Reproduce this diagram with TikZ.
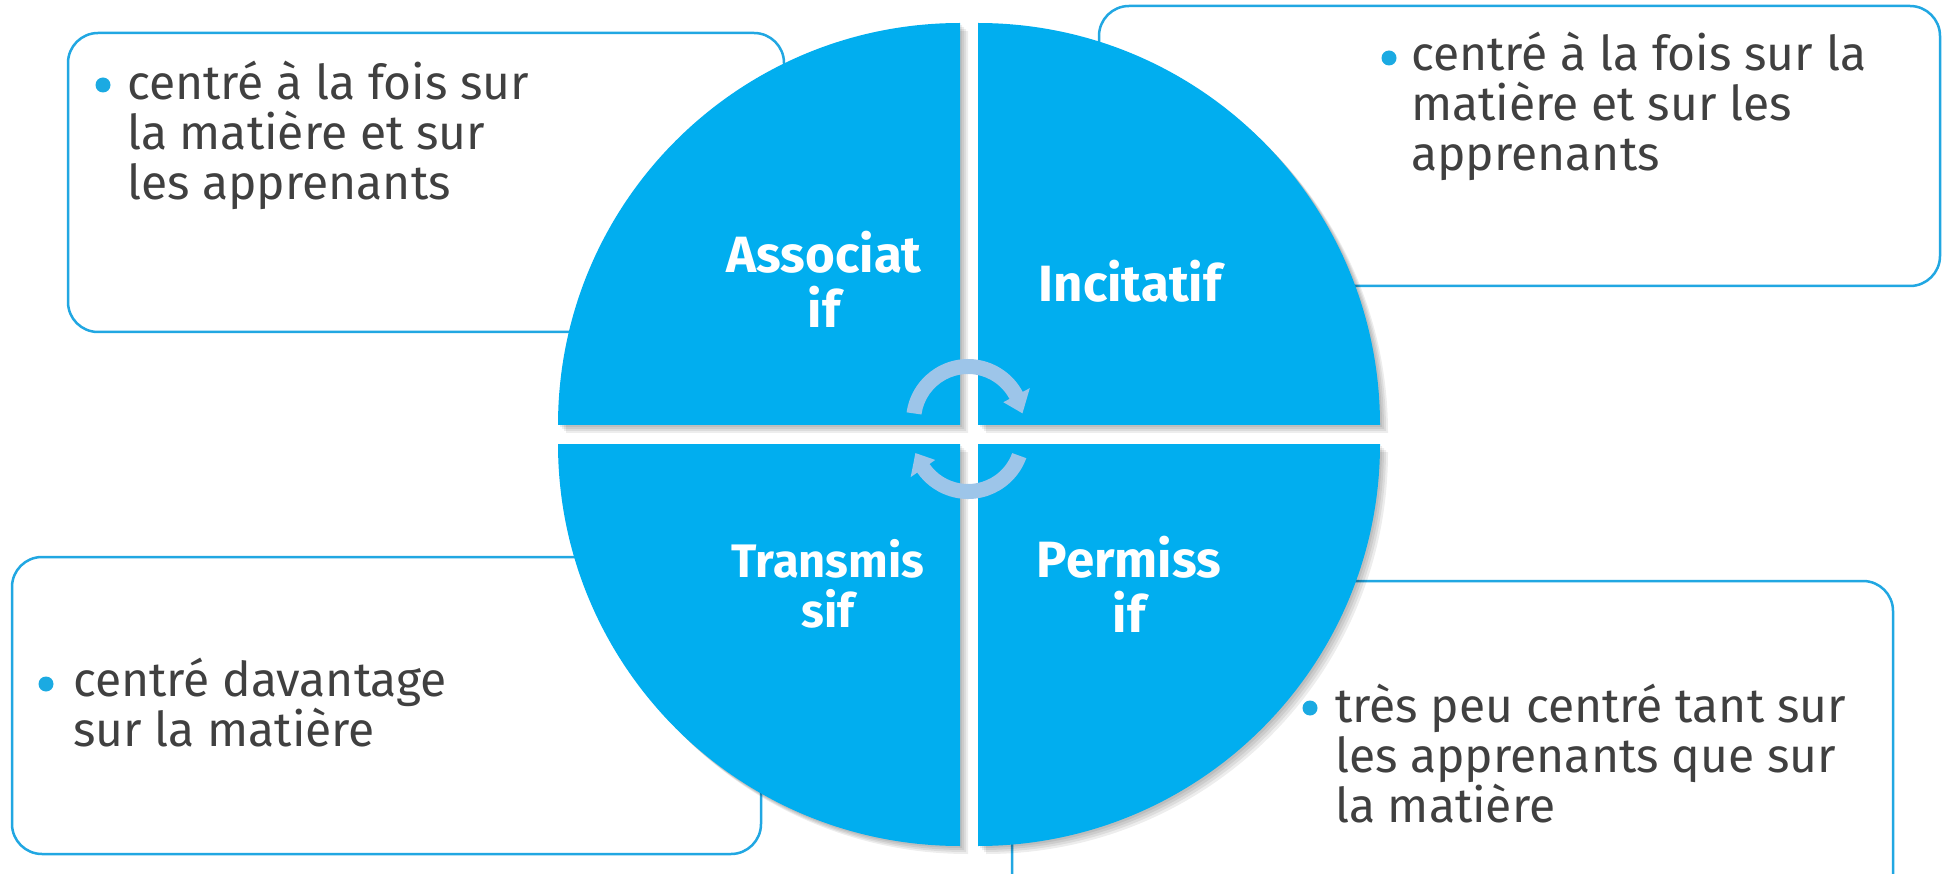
\documentclass[tikz,border=0pt]{standalone}
\usepackage{fontspec}
\setmainfont{Fira Sans}
\definecolor{quadblue}{RGB}{1,174,239}
\definecolor{boxblue}{RGB}{33,167,226}
\definecolor{bulletblue}{RGB}{27,170,226}
\definecolor{textgray}{RGB}{64,64,64}
\definecolor{arrowblue}{RGB}{157,197,233}
\begin{document}
\begin{tikzpicture}[x=1pt,y=-1pt,
  infobox/.style={draw=boxblue, line width=2.5pt, fill=white, rounded corners=30pt},
  quad/.style={fill=quadblue},
  qshadow/.style={fill=black, fill opacity=0.07},
  body/.style={font=\fontsize{48}{50}\selectfont, align=left, inner sep=0pt, text=textgray, anchor=base west},
  label/.style={font=\bfseries\fontsize{51}{55}\selectfont, align=center, inner sep=0pt, text=white, anchor=base},
  bullet/.style={circle, fill=bulletblue, inner sep=0pt, minimum size=15pt},
  cyc/.style={fill=arrowblue}]
\useasboundingbox (0,0) rectangle (1944,874);
\clip (0,0) rectangle (1944,874);
% info boxes
\path[infobox] (68,33) rectangle (784,332);
\path[infobox] (1099,6) rectangle (1940,286);
\path[infobox] (12,557) rectangle (761,854);
\path[infobox] (1012,581) rectangle (1893,910);
% quadrant shadows
\foreach \d in {2,4,6,8}{
  \path[qshadow] (960+\d,425+\d) -- (558+\d,425+\d) arc[start angle=-180,end angle=-90,radius=402] -- cycle;
  \path[qshadow] (978+\d,425+\d) -- (978+\d,23+\d) arc[start angle=-90,end angle=0,radius=402] -- cycle;
  \path[qshadow] (960+\d,444+\d) -- (558+\d,444+\d) arc[start angle=180,end angle=90,radius=402] -- cycle;
  \path[qshadow] (978+\d,444+\d) -- (1380+\d,444+\d) arc[start angle=0,end angle=90,radius=402] -- cycle;
}
% quadrants
\path[quad] (960,425) -- (558,425) arc[start angle=-180,end angle=-90,radius=402] -- cycle;
\path[quad] (978,425) -- (978,23) arc[start angle=-90,end angle=0,radius=402] -- cycle;
\path[quad] (960,444) -- (558,444) arc[start angle=180,end angle=90,radius=402] -- cycle;
\path[quad] (978,444) -- (1380,444) arc[start angle=0,end angle=90,radius=402] -- cycle;
% cycle arrows
\begin{scope}[shift={(968,421)}]
  \path[cyc] (-172:62) arc[start angle=-172,end angle=-28,radius=62] -- (-28:70) -- (-8:55) -- (-28:40) -- (-28:47) arc[start angle=-28,end angle=-172,radius=47] -- cycle;
\end{scope}
\begin{scope}[shift={(968,437)}]
  \path[cyc] (20:62) arc[start angle=20,end angle=145,radius=62] -- (145:70) -- (163:55) -- (145:40) -- (145:47) arc[start angle=145,end angle=20,radius=47] -- cycle;
\end{scope}
% quadrant labels (anchored at the baseline of the last line)
\node[label] (qa) at (824,328) {Associat\\if};
\node[label] (qi) at (1130,302) {Incitatif};
\node[label, font=\bfseries\fontsize{47}{50}\selectfont] (qt) at (828,627) {Transmis\\sif};
\node[label] (qp) at (1129,632) {Permiss\\if};
% bullets and texts (anchored at the baseline of the last line)
\node[bullet] (b1) at (103,85) {};
\node[body] (t1) at (127,200) {centré à la fois sur\\la matière et sur\\les apprenants};
\node[bullet] (b2) at (1389,58) {};
\node[body] (t2) at (1411,171) {centré à la fois sur la\\matière et sur les\\apprenants};
\node[bullet] (b3) at (46,684) {};
\node[body] (t3) at (73,746) {centré davantage\\sur la matière};
\node[bullet] (b4) at (1310,708) {};
\node[body] (t4) at (1335,822) {très peu centré tant sur\\les apprenants que sur\\la matière};
\end{tikzpicture}
\end{document}
